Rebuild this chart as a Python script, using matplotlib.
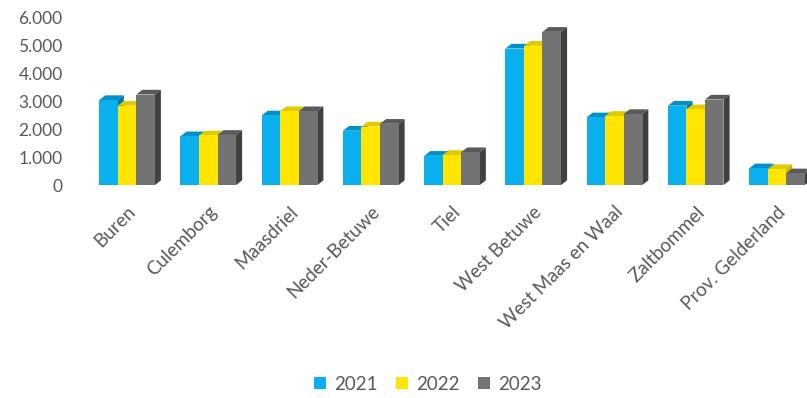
import matplotlib.pyplot as plt
import numpy as np

plt.rcParams['font.family'] = ['Lato', 'DejaVu Sans']

# data
gemeenten = ["Buren", "Culemborg", "Maasdriel", "Neder-Betuwe", "Tiel",
             "West Betuwe", "West Maas en Waal", "Zaltbommel", "Prov. Gelderland"]
jaren = ["2021", "2022", "2023"]
v2021 = [3050, 1750, 2500, 1950, 1050, 4900, 2430, 2850, 600]
v2022 = [2850, 1780, 2650, 2100, 1080, 5000, 2480, 2720, 570]
v2023 = [3250, 1800, 2650, 2200, 1180, 5500, 2550, 3070, 420]
yticks = [0, 1000, 2000, 3000, 4000, 5000, 6000]
ytick_labels = ["0", "1.000", "2.000", "3.000", "4.000", "5.000", "6.000"]

front = ["#0AB0EE", "#FFE500", "#737373"]
top_c = ["#0090CC", "#E3C900", "#5A5A5A"]
side_c = ["#0078AA", "#C9B200", "#404040"]

fig = plt.figure(figsize=(8.07, 3.98), dpi=100)
ax = fig.add_axes([0.1, 0.535, 0.9, 0.42])

x = np.arange(len(gemeenten))
w = 0.228
dx, dy = 0.075, 170

handles = []
for i, vals in enumerate([v2021, v2022, v2023]):
    pos = x + (i - 1) * w
    b = ax.bar(pos, vals, w, color=front[i], zorder=3, clip_on=False, label=jaren[i])
    handles.append(b)
    for p, h in zip(pos, vals):
        x0 = p - w / 2
        ax.fill([x0, x0 + w, x0 + w + dx, x0 + dx], [h, h, h + dy, h + dy],
                color=top_c[i], zorder=2, clip_on=False, lw=0)
        ax.fill([x0 + w, x0 + w + dx, x0 + w + dx, x0 + w], [0, dy, h + dy, h],
                color=side_c[i], zorder=2, clip_on=False, lw=0)

ax.set_xlim(-0.57, 8.37)
ax.set_ylim(0, 6000)
ax.set_yticks(yticks)
ax.set_yticklabels(ytick_labels, fontsize=12.5, color="#595959")
ax.set_xticks(x)
ax.set_xticklabels(gemeenten, rotation=45, ha="right", va="top", rotation_mode="anchor",
                   fontsize=13.5, color="#595959")
ax.tick_params(length=0)
ax.tick_params(axis="y", pad=13)
ax.tick_params(axis="x", pad=13)
for s in ax.spines.values():
    s.set_visible(False)

fig.legend(handles, jaren, loc="center", bbox_to_anchor=(0.53, 0.035), ncol=3,
           frameon=False, fontsize=13.5, handlelength=0.65, handleheight=0.65,
           handletextpad=0.4, columnspacing=1.0, labelcolor="#595959")

plt.savefig("out.png", dpi=100)
